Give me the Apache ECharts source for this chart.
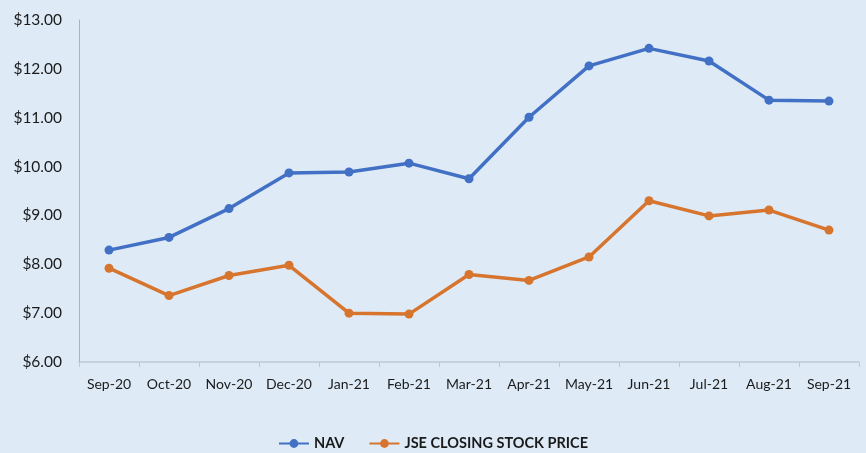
<!DOCTYPE html>
<html>
<head>
<meta charset="utf-8">
<script src="https://cdn.jsdelivr.net/npm/echarts@6/dist/echarts.min.js"></script>
<style>
  html, body { margin: 0; padding: 0; background: #deebf7; }
  #chart { width: 866px; height: 453px; }
</style>
</head>
<body>
<div id="chart"></div>
<script>
const months = ['Sep-20', 'Oct-20', 'Nov-20', 'Dec-20', 'Jan-21', 'Feb-21', 'Mar-21',
  'Apr-21', 'May-21', 'Jun-21', 'Jul-21', 'Aug-21', 'Sep-21'];
const navValues = [8.29, 8.55, 9.14, 9.87, 9.89, 10.07, 9.75, 11.01, 12.06, 12.42, 12.16, 11.36, 11.34];
const jseValues = [7.92, 7.36, 7.77, 7.98, 7.00, 6.98, 7.79, 7.67, 8.15, 9.30, 8.99, 9.11, 8.70];

const chart = echarts.init(document.getElementById('chart'));
const font = 'Lato';

chart.setOption({
  backgroundColor: '#deebf7',
  animation: false,
  grid: { left: 79, right: 7, top: 20, bottom: 91 },
  legend: {
    bottom: -3,
    left: 'center',
    itemWidth: 30,
    itemHeight: 11,
    itemGap: 24,
    textStyle: { fontFamily: font, fontSize: 14.5, fontWeight: 'bold', color: '#1a1a1a' },
    data: ['NAV', 'JSE CLOSING STOCK PRICE']
  },
  xAxis: {
    type: 'category',
    data: months,
    boundaryGap: true,
    axisLine: { lineStyle: { color: '#bfc9d4', width: 1.5 } },
    axisTick: { show: true, length: 5, lineStyle: { color: '#bfc9d4' } },
    axisLabel: { interval: 0, fontFamily: font, fontSize: 14, color: '#1a1a1a', margin: 15 },
    splitLine: { show: false }
  },
  yAxis: {
    type: 'value',
    min: 6,
    max: 13,
    interval: 1,
    axisLine: { show: true, lineStyle: { color: '#9bb3e0', width: 1 } },
    axisTick: { show: false },
    splitLine: { show: false },
    axisLabel: {
      fontFamily: font, fontSize: 15.5, color: '#1a1a1a', margin: 17,
      formatter: v => '$' + v.toFixed(2)
    }
  },
  series: [
    {
      name: 'NAV',
      type: 'line',
      data: navValues,
      symbol: 'circle',
      symbolSize: 9,
      itemStyle: { color: '#4170c4' },
      lineStyle: { width: 3.5, color: '#4170c4' }
    },
    {
      name: 'JSE CLOSING STOCK PRICE',
      type: 'line',
      data: jseValues,
      symbol: 'circle',
      symbolSize: 9,
      itemStyle: { color: '#d7752f' },
      lineStyle: { width: 3.5, color: '#d7752f' }
    }
  ]
});
</script>
</body>
</html>
